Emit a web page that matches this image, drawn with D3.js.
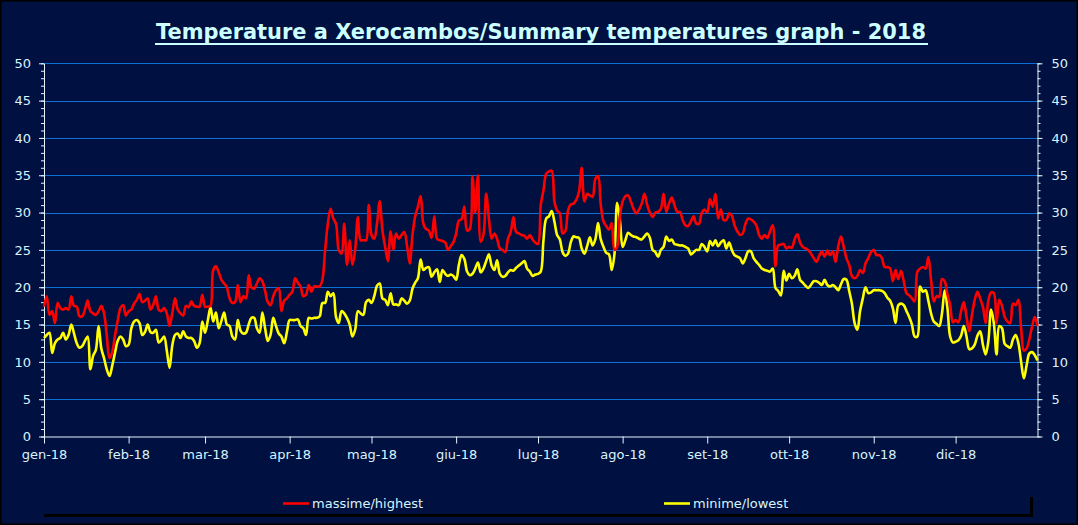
<!DOCTYPE html>
<html><head><meta charset="utf-8">
<script src="https://cdn.jsdelivr.net/npm/d3@7"></script>
<style>html,body{margin:0;padding:0;background:#001040;overflow:hidden}</style>
</head><body><svg id="c" width="1078" height="525"></svg>
<script>
const chartTitle = "Temperature a Xerocambos/Summary temperatures graph - 2018";
const monthLabels = ["gen-18","feb-18","mar-18","apr-18","mag-18","giu-18","lug-18","ago-18","set-18","ott-18","nov-18","dic-18"];
const yTicks = [0,5,10,15,20,25,30,35,40,45,50];
const seriesNames = ["massime/highest","minime/lowest"];

const highs = [
17.4,18.8,16.3,16.8,15.2,17.9,17.2,17.0,17.2,17.0,
18.8,17.5,17.4,16.1,16.1,17.0,18.2,16.8,16.5,16.3,
16.8,17.5,16.5,13.5,10.5,11.3,13.5,15.5,17.2,17.6,
16.2,16.8,17.0,17.8,18.3,19.1,18.0,18.2,18.5,17.0,
17.6,18.8,17.0,16.8,17.2,16.5,14.8,16.5,18.5,17.0,
16.5,16.2,17.5,17.3,18.1,17.5,17.4,17.4,19.0,17.4,
17.4,17.5,22.3,22.8,22.0,21.0,20.5,20.0,18.5,17.9,
18.0,20.3,18.0,18.8,18.5,21.6,20.0,19.8,20.5,21.2,
20.8,19.5,18.0,17.6,18.8,19.6,19.9,16.8,18.2,18.5,
19.0,19.4,21.2,20.6,20.1,18.8,19.0,20.3,19.4,20.1,
20.1,20.1,21.0,25.0,28.5,30.5,29.2,28.5,25.0,24.5,
28.5,23.0,26.3,23.0,25.0,29.4,26.3,26.3,26.3,31.0,
27.0,26.5,28.5,31.5,27.6,25.4,23.5,27.5,25.0,27.2,
26.5,27.0,27.4,25.6,23.2,27.0,29.5,30.8,32.2,28.5,
27.8,27.6,26.6,29.5,26.5,26.3,26.2,26.0,25.0,25.5,
26.0,27.2,28.9,29.1,30.8,27.6,27.8,34.8,30.0,35.0,
26.1,27.0,32.5,29.2,26.5,27.2,26.5,25.2,25.0,24.7,
26.5,27.4,29.4,27.4,27.2,27.0,26.9,26.5,27.0,26.4,
26.0,25.8,31.0,33.0,35.2,35.5,35.6,31.5,30.3,29.9,
27.2,27.5,30.3,31.1,31.2,31.7,32.8,36.0,31.5,32.5,
32.3,32.1,34.5,34.9,31.0,28.8,28.2,27.7,28.6,25.0,
25.4,29.5,31.5,32.2,32.3,31.5,30.5,29.9,30.4,31.2,
32.5,31.0,30.0,29.4,30.0,30.1,30.5,32.5,30.1,31.2,
32.0,31.0,30.1,30.1,29.0,28.3,28.2,28.8,29.5,28.5,
28.5,30.0,30.4,30.0,31.8,30.8,32.5,29.2,30.4,29.0,
29.0,29.9,29.6,28.3,27.5,27.0,27.2,28.5,29.2,29.1,
28.8,28.3,27.0,26.5,27.0,26.6,27.5,28.3,22.8,25.6,
25.7,25.8,25.2,25.4,25.3,26.4,27.1,26.0,25.4,25.2,
25.0,24.5,23.9,23.4,24.2,24.8,24.1,24.9,24.3,24.8,
23.4,25.5,26.8,25.4,23.9,23.0,21.5,21.2,21.5,22.3,
21.9,23.2,23.9,24.7,25.0,24.3,24.3,23.9,22.7,22.7,
22.5,20.8,22.3,21.1,22.2,20.8,19.2,18.9,18.5,18.1,
22.1,22.5,22.7,22.5,24.0,21.0,18.1,18.8,18.7,21.1,
20.8,19.0,17.6,15.3,15.6,15.3,16.8,18.0,16.0,14.1,
16.3,18.3,19.4,18.5,17.4,15.2,18.2,19.3,19.2,15.2,
18.3,17.5,16.0,15.4,15.2,17.8,17.6,18.3,14.5,11.5,
11.8,13.0,14.7,16.0,14.8
];

const lows = [
13.2,13.6,13.9,11.2,12.5,13.0,13.2,13.9,13.0,13.6,
15.0,13.8,12.5,11.9,12.1,12.8,13.4,9.0,10.8,11.6,
14.8,11.8,10.5,9.0,8.1,9.5,11.2,12.8,13.4,13.0,
12.1,12.3,14.5,15.4,15.6,15.2,13.6,14.0,15.0,14.0,
13.9,14.3,12.6,12.9,13.4,11.5,9.2,12.2,13.6,13.8,
13.2,14.1,13.4,13.2,13.2,12.8,11.9,12.5,15.4,13.9,
15.5,17.3,15.4,16.6,14.5,15.5,16.6,15.0,14.8,13.4,
13.0,15.6,14.2,13.8,13.9,15.0,15.9,15.9,14.5,13.9,
16.6,14.5,12.8,13.6,15.9,14.8,13.8,13.4,12.5,14.0,
15.6,15.6,15.6,15.7,14.8,14.5,13.6,15.9,15.8,15.9,
15.9,16.1,17.9,17.9,19.4,18.8,19.2,16.0,15.2,16.8,
16.5,15.9,15.0,13.4,14.3,16.8,16.5,16.3,18.0,18.3,
17.9,18.8,20.2,20.5,18.5,18.3,17.6,19.2,17.7,17.7,
17.6,18.5,18.2,17.8,18.2,19.8,20.6,21.2,23.7,22.3,
22.6,22.7,21.4,22.0,22.4,20.7,22.3,21.8,21.5,21.7,
21.5,21.0,23.0,24.3,23.8,22.1,21.6,21.8,22.5,23.3,
22.0,22.5,23.5,24.4,22.9,22.3,23.6,21.8,21.4,21.5,
22.0,22.3,22.2,22.6,22.9,23.2,23.5,22.5,22.1,21.5,
21.7,21.8,22.1,26.3,29.2,29.5,30.2,28.8,27.0,26.4,
24.7,24.2,24.5,26.0,26.8,26.7,26.6,25.2,24.5,25.5,
26.7,25.6,26.4,28.6,26.4,25.4,24.6,24.4,22.3,24.4,
31.3,29.0,25.4,26.3,27.3,27.0,26.8,26.7,26.5,26.4,
26.8,27.2,26.6,25.0,24.7,24.1,25.0,25.4,26.8,26.2,
26.4,25.8,25.7,25.6,25.6,25.4,25.2,24.4,24.7,25.0,
25.0,25.8,25.4,24.8,26.2,25.6,26.3,25.5,26.0,26.3,
25.2,26.0,25.0,24.3,24.1,23.9,23.2,23.9,24.8,24.8,
23.9,23.4,23.0,22.5,22.3,22.2,22.1,22.5,19.9,19.5,
18.9,22.2,20.9,21.8,21.2,21.5,22.4,21.0,20.6,20.2,
19.9,20.3,20.8,20.8,20.6,20.3,21.0,20.3,20.1,20.3,
20.0,19.6,20.4,21.1,21.0,19.5,17.8,15.2,14.3,16.8,
18.5,20.0,19.2,19.3,19.6,19.6,19.6,19.5,19.2,18.6,
18.2,17.2,15.2,17.6,17.8,17.6,16.8,16.0,15.0,13.4,
13.4,20.1,19.4,19.6,18.2,16.5,15.4,15.1,14.8,16.5,
19.6,17.2,13.4,12.6,12.7,12.9,13.5,14.8,13.4,11.7,
11.8,12.3,13.5,14.1,12.3,11.0,12.8,17.0,15.2,11.0,
14.8,14.5,12.4,12.1,11.9,13.0,13.6,12.5,10.0,7.8,
9.5,11.1,11.3,10.9,10.2
];

const W = 1078, H = 525;
const bg = "#001040";
const textCol = "#d8f4ff";
const axisCol = "#e6f4ff";
const gridCol = "#0a6fd6";
const lineFont = "'Comic Sans MS','DejaVu Sans',sans-serif";

const start = new Date(2018, 0, 1);
const end = new Date(2018, 11, 31);
const days = d3.timeDay.range(start, new Date(2019, 0, 1));
const months = d3.timeMonth.range(start, new Date(2019, 0, 1));

const x = d3.scaleTime().domain([start, end]).range([44, 1037.5]);
const y = d3.scaleLinear().domain([0, 50]).range([436.5, 63.3]);

const svg = d3.select("#c");
svg.append("rect").attr("x", 0).attr("y", 0).attr("width", W).attr("height", H).attr("fill", bg);
svg.append("rect").attr("x", 0.5).attr("y", 0.5).attr("width", W - 1).attr("height", H - 1)
  .attr("fill", "none").attr("stroke", "#000").attr("stroke-width", 2);

// title
const t = svg.append("text").attr("x", 541).attr("y", 39).attr("text-anchor", "middle")
  .attr("font-family", lineFont).attr("font-weight", "bold").attr("font-size", 22)
  .attr("fill", "#ccffff").attr("textLength", 770).attr("lengthAdjust", "spacingAndGlyphs")
  .text(chartTitle);
svg.append("line").attr("x1", 155).attr("x2", 928).attr("y1", 44).attr("y2", 44)
  .attr("stroke", "#ccffff").attr("stroke-width", 2);

// gridlines
svg.append("g").selectAll("line").data(yTicks.filter(d => d > 0)).join("line")
  .attr("x1", 44).attr("x2", 1037.5)
  .attr("y1", d => Math.round(y(d)) + 0.5).attr("y2", d => Math.round(y(d)) + 0.5)
  .attr("stroke", gridCol).attr("stroke-width", 1);

function styleAxis(g) {
  g.selectAll("path,line").attr("stroke", axisCol).attr("stroke-width", 1);
  g.selectAll("text").attr("fill", textCol);
}

// left axis
const minorTicks = d3.range(0, 51, 1);
svg.append("g").attr("transform", "translate(44,0)")
  .call(d3.axisLeft(y).tickValues(minorTicks).tickSize(3).tickFormat(""))
  .call(styleAxis).call(g => g.select(".domain").remove());
svg.append("g").attr("transform", "translate(44,0)")
  .call(d3.axisLeft(y).tickValues(yTicks).tickSize(5).tickSizeOuter(0).tickPadding(8))
  .call(styleAxis)
  .call(g => g.selectAll("text").attr("font-family", "'DejaVu Sans',Verdana,sans-serif").attr("font-size", 13));

// right axis
svg.append("g").attr("transform", "translate(1037.5,0)")
  .call(d3.axisRight(y).tickValues(minorTicks).tickSize(3).tickFormat(""))
  .call(styleAxis).call(g => g.select(".domain").remove());
svg.append("g").attr("transform", "translate(1037.5,0)")
  .call(d3.axisRight(y).tickValues(yTicks).tickSize(5).tickSizeOuter(0).tickPadding(9))
  .call(styleAxis)
  .call(g => g.selectAll("text").attr("font-family", "'DejaVu Sans',Verdana,sans-serif").attr("font-size", 13));

// bottom axis
svg.append("g").attr("transform", "translate(0,436.5)")
  .call(d3.axisBottom(x).tickValues(months).tickSize(7).tickSizeOuter(0).tickPadding(6)
    .tickFormat((d, i) => monthLabels[i]))
  .call(styleAxis)
  .call(g => g.selectAll("text").attr("font-family", lineFont).attr("font-size", 13));

// lines
const line = d3.line().x((d, i) => x(days[i])).y(d => y(d)).curve(d3.curveCatmullRom.alpha(0.5));
svg.append("path").datum(lows).attr("d", line).attr("fill", "none")
  .attr("stroke", "#ffff00").attr("stroke-width", 2.6).attr("stroke-linejoin", "round");
svg.append("path").datum(highs).attr("d", line).attr("fill", "none")
  .attr("stroke", "#ff0000").attr("stroke-width", 2.6).attr("stroke-linejoin", "round");

// legend
svg.append("rect").attr("x", 44).attr("y", 497).attr("width", 989).attr("height", 20).attr("fill", "#000");
svg.append("rect").attr("x", 41).attr("y", 494).attr("width", 989).attr("height", 20).attr("fill", bg);
const legendItems = [
  { name: seriesNames[0], color: "#ff0000", x0: 283 },
  { name: seriesNames[1], color: "#ffff00", x0: 664 }
];
const lg = svg.append("g").selectAll("g").data(legendItems).join("g");
lg.append("line").attr("x1", d => d.x0).attr("x2", d => d.x0 + 26).attr("y1", 503.5).attr("y2", 503.5)
  .attr("stroke", d => d.color).attr("stroke-width", 2.6);
lg.append("text").attr("x", d => d.x0 + 29).attr("y", 508).attr("fill", textCol)
  .attr("font-family", lineFont).attr("font-size", 13).text(d => d.name);
</script>
</body></html>
